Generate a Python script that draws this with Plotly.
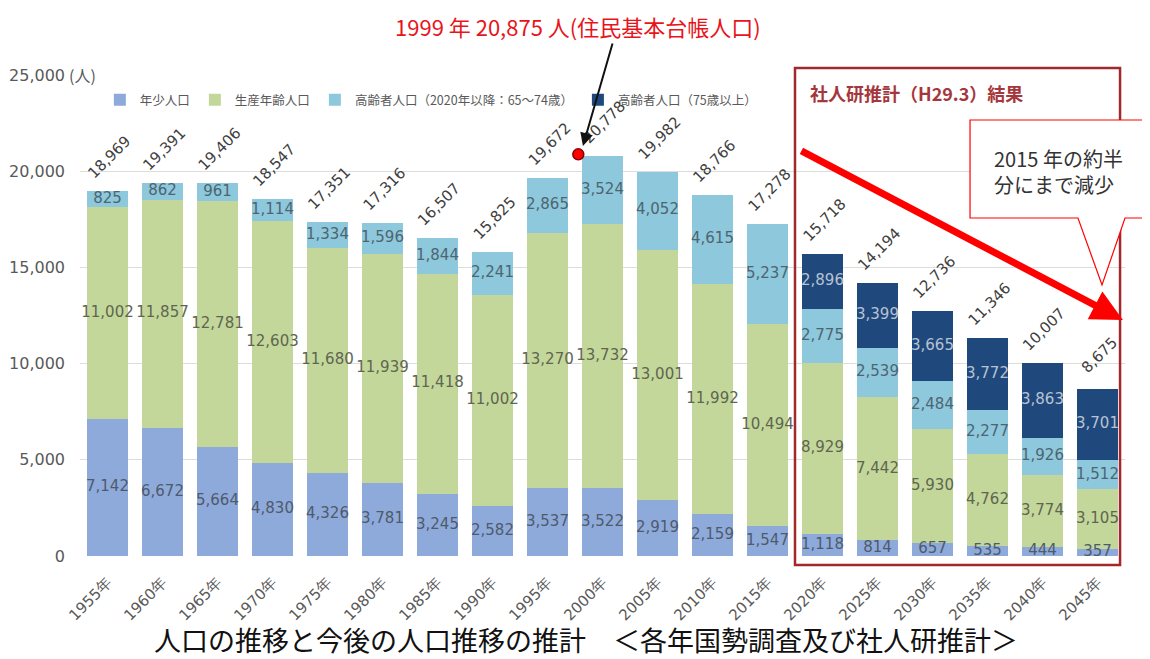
import plotly.graph_objects as go

years = [1955, 1960, 1965, 1970, 1975, 1980, 1985, 1990, 1995, 2000,
         2005, 2010, 2015, 2020, 2025, 2030, 2035, 2040, 2045]
year_labels = [f"{y}年" for y in years]

young = [7142, 6672, 5664, 4830, 4326, 3781, 3245, 2582, 3537, 3522,
         2919, 2159, 1547, 1118, 814, 657, 535, 444, 357]
working = [11002, 11857, 12781, 12603, 11680, 11939, 11418, 11002, 13270, 13732,
           13001, 11992, 10494, 8929, 7442, 5930, 4762, 3774, 3105]
elderly_65 = [825, 862, 961, 1114, 1334, 1596, 1844, 2241, 2865, 3524,
              4052, 4615, 5237, 2775, 2539, 2484, 2277, 1926, 1512]
elderly_75 = [0, 0, 0, 0, 0, 0, 0, 0, 0, 0,
              0, 0, 0, 2896, 3399, 3665, 3772, 3863, 3701]
totals = [18969, 19391, 19406, 18547, 17351, 17316, 16507, 15825, 19672, 20778,
          19982, 18766, 17278, 15718, 14194, 12736, 11346, 10007, 8675]

series_names = ["年少人口", "生産年齢人口", "高齢者人口（2020年以降：65～74歳）", "高齢者人口（75歳以上）"]
series_colors = ["#8EAADB", "#C4D79B", "#8DC8DC", "#1F497D"]
label_colors = ["#4F5A6B", "#5E6650", "#4D6570", "#B8C2D2"]

peak_year_x = 1997.8
peak_value = 20875
peak_text = "1999 年 20,875 人(住民基本台帳人口)"

y_ticks = [0, 5000, 10000, 15000, 20000, 25000]
y_ticktext = ["0", "5,000", "10,000", "15,000", "20,000", "25,000"]

NUM_FONT = "DejaVu Sans"
JP_FONT = "Noto Sans CJK JP"

fig = go.Figure()
stack = [young, working, elderly_65, elderly_75]
base = [0] * len(years)
for vals, name, col, lcol in zip(stack, series_names, series_colors, label_colors):
    fig.add_trace(go.Bar(x=years, y=vals, name=name, width=3.7,
                         marker=dict(color=col, line=dict(width=0)),
                         hoverinfo="skip"))
    centers = [b + v / 2 for b, v in zip(base, vals)]
    texts = [f"{v:,}" if v > 0 else "" for v in vals]
    fig.add_trace(go.Scatter(x=years, y=centers, mode="text", text=texts,
                             textfont=dict(family=NUM_FONT, size=15, color=lcol),
                             showlegend=False, cliponaxis=False, hoverinfo="skip"))
    base = [b + v for b, v in zip(base, vals)]

# peak dot
fig.add_trace(go.Scatter(x=[peak_year_x], y=[peak_value], mode="markers",
                         marker=dict(color="#FF0000", size=11, line=dict(color="#8B0000", width=1.5)),
                         showlegend=False, cliponaxis=False, hoverinfo="skip"))

annotations = []
for y, t in zip(years, totals):
    annotations.append(dict(x=y, y=t, xref="x", yref="y", text=f"{t:,}", showarrow=False,
                            textangle=-45, xshift=2, yshift=34,
                            font=dict(family=NUM_FONT, size=15, color="#404040")))

# unit label
annotations.append(dict(x=-0.012, y=1.0, xref="paper", yref="paper", text="(人)",
                        showarrow=False, xanchor="left", yanchor="middle",
                        font=dict(family=JP_FONT, size=16, color="#595959")))
# top red text
annotations.append(dict(x=0.4766, y=1.102, xref="paper", yref="paper", text=peak_text,
                        showarrow=False, xanchor="center", yanchor="middle",
                        font=dict(family=JP_FONT, size=22, color="#E8141B")))
# black arrow to peak
annotations.append(dict(x=0.4813, y=0.8524, xref="paper", yref="paper", text="",
                        showarrow=True, ax=30, ay=-104, arrowhead=2, arrowsize=1.3,
                        arrowwidth=2, arrowcolor="#111111"))
# box title
annotations.append(dict(x=0.697, y=0.9626, xref="paper", yref="paper",
                        text="<b>社人研推計（H29.3）結果</b>", showarrow=False,
                        xanchor="left", yanchor="middle",
                        font=dict(family=JP_FONT, size=18, color="#A5373C")))
# red arrow
annotations.append(dict(x=0.998, y=0.4906, xref="paper", yref="paper", text="",
                        showarrow=True, ax=-323, ay=-170, arrowhead=2, arrowsize=0.9,
                        arrowwidth=7, arrowcolor="#FF0000"))
# callout text
annotations.append(dict(x=0.8727, y=0.800, xref="paper", yref="paper",
                        text="2015 年の約半<br>分にまで減少", showarrow=False,
                        xanchor="left", yanchor="middle", align="left",
                        font=dict(family=JP_FONT, size=20, color="#333333")))
# caption
annotations.append(dict(x=0.484, y=-0.173, xref="paper", yref="paper",
                        text="人口の推移と今後の人口推移の推計　＜各年国勢調査及び社人研推計＞",
                        showarrow=False, xanchor="center", yanchor="middle",
                        font=dict(family=JP_FONT, size=27, color="#111111")))

shapes = [
    dict(type="rect", xref="x", yref="paper", x0=2017.5, x1=2047.05, y0=-0.0187, y1=1.0146,
         line=dict(color="#A3282E", width=2.5), fillcolor="rgba(0,0,0,0)", layer="above"),
    dict(type="path", xref="paper", yref="paper",
         path="M 0.8517,0.9064 L 1.03,0.9064 L 1.03,0.7027 L 1.0,0.7027 L 0.978,0.5634 "
              "L 0.955,0.7027 L 0.8517,0.7027 Z",
         line=dict(color="#FF0000", width=1.2), fillcolor="white", layer="above"),
]

# the page body adds an 8px margin, so the figure is offset by 8px
fig.update_layout(
    barmode="stack",
    width=1142, height=651,
    margin=dict(l=72, r=25, t=67, b=103, autoexpand=False),
    paper_bgcolor="white", plot_bgcolor="white",
    font=dict(family=JP_FONT, color="#595959"),
    legend=dict(orientation="h", x=0.019, y=0.948, xanchor="left", yanchor="middle",
                font=dict(family=JP_FONT, size=12.5, color="#595959"),
                bgcolor="rgba(0,0,0,0)", itemwidth=30, traceorder="normal"),
    xaxis=dict(range=[1952.5, 2047.5], tickmode="array", tickvals=years, ticktext=year_labels,
               tickangle=-45, showgrid=False, zeroline=False, showline=False, automargin=False,
               tickfont=dict(family=NUM_FONT, size=15, color="#595959"),
               ticklabelstandoff=14),
    yaxis=dict(range=[0, 25000], tickmode="array", tickvals=y_ticks, ticktext=y_ticktext,
               showgrid=True, gridcolor="#DDDDDD", gridwidth=1, zeroline=False, showline=False,
               automargin=False,
               tickfont=dict(family=NUM_FONT, size=16, color="#595959"),
               ticklabelstandoff=14),
    annotations=annotations,
    shapes=shapes,
    bargap=0,
)

fig.write_html("out.html")
